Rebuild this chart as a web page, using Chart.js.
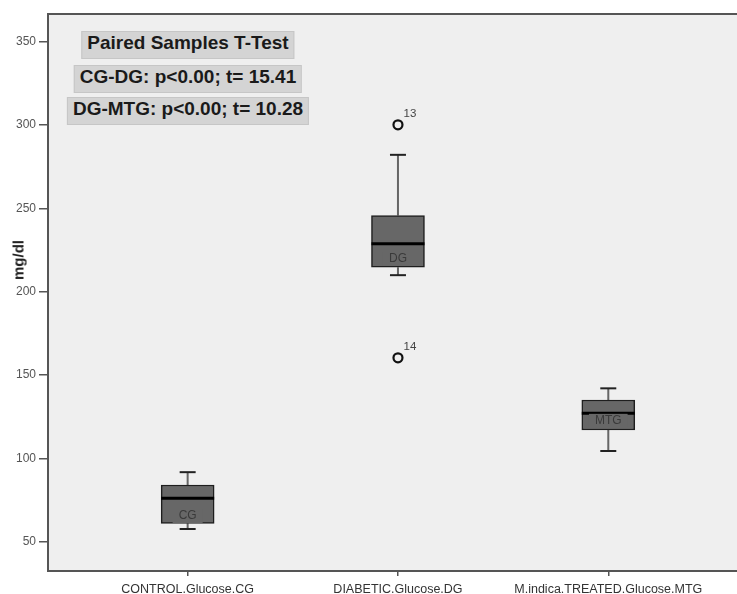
<!DOCTYPE html>
<html>
<head>
<meta charset="utf-8">
<script src="https://cdn.jsdelivr.net/npm/chart.js@4/dist/chart.umd.min.js"></script>
<style>
  html, body { margin: 0; padding: 0; background: #fff; }
  #wrap { position: relative; width: 737px; height: 594px; }
  .note {
    position: absolute; transform: translateX(-50%);
    height: 28px; line-height: 28px; padding: 0 5px;
    background: #d4d4d4; border: 1px solid #c6c6c6; box-sizing: border-box;
    font: bold 19px "Liberation Sans", Arial, sans-serif; color: #1a1a1a;
    white-space: nowrap;
  }
  #ytitle {
    position: absolute; left: 18px; top: 260px;
    transform: translate(-50%, -50%) rotate(-90deg);
    font: bold 15px "Liberation Sans", Arial, sans-serif; color: #222;
  }
</style>
</head>
<body>
<div id="wrap">
  <canvas id="myChart" width="737" height="594"></canvas>
  <div class="note" style="left:188px; top:31px;">Paired Samples T-Test</div>
  <div class="note" style="left:188px; top:65px;">CG-DG: p&lt;0.00; t= 15.41</div>
  <div class="note" style="left:188px; top:97px;">DG-MTG: p&lt;0.00; t= 10.28</div>
  <div id="ytitle">mg/dl</div>
</div>
<script>
  // groups
  const categories = ['CONTROL.Glucose.CG', 'DIABETIC.Glucose.DG', 'M.indica.TREATED.Glucose.MTG'];
  const codes = ['CG', 'DG', 'MTG'];
  // box stats
  const whiskerLow = [57.6, 209.9, 104.4];
  const q1 = [61, 214.7, 117];
  const median = [76, 228.7, 127];
  const q3 = [84, 245.7, 135];
  const whiskerHigh = [91.7, 282.1, 142];
  const codeAt = [65.4, 219.6, 122.5];
  // outliers
  const outlierGroup = [2, 2];
  const outlierValues = [300.1, 160.3];
  const outlierIds = ['13', '14'];
  const yTicks = [50, 100, 150, 200, 250, 300, 350];

  const boxFill = '#676767';
  const pos = categories.map((c, i) => i + 1);

  const whiskerData = [];
  pos.forEach((x, i) => {
    whiskerData.push({x: x, y: q3[i]}, {x: x, y: whiskerHigh[i]}, {x: x, y: null});
    whiskerData.push({x: x, y: q1[i]}, {x: x, y: whiskerLow[i]}, {x: x, y: null});
  });
  const capData = [];
  pos.forEach((x, i) => {
    capData.push({x: x, y: whiskerLow[i]}, {x: x, y: whiskerHigh[i]});
  });

  const bgPlugin = {
    id: 'plotBg',
    beforeDraw(chart) {
      const {ctx, chartArea: a} = chart;
      ctx.save();
      ctx.fillStyle = '#efefef';
      ctx.fillRect(a.left, a.top, a.right - a.left, a.bottom - a.top);
      ctx.strokeStyle = '#555';
      ctx.lineWidth = 2;
      ctx.beginPath();
      ctx.moveTo(a.left, a.top);
      ctx.lineTo(a.right, a.top);
      ctx.stroke();
      ctx.restore();
    }
  };

  const labelPlugin = {
    id: 'boxLabels',
    afterDatasetsDraw(chart) {
      const {ctx, scales: {x, y}} = chart;
      ctx.save();
      ctx.font = '12px "Liberation Sans", Arial, sans-serif';
      ctx.textAlign = 'center';
      ctx.textBaseline = 'middle';
      codes.forEach((c, i) => {
        const px = x.getPixelForValue(pos[i]);
        const py = y.getPixelForValue(codeAt[i]);
        const w = ctx.measureText(c).width + 12;
        ctx.fillStyle = boxFill;
        ctx.fillRect(px - w / 2, py - 7, w, 14);
        ctx.fillStyle = '#3a3a3a';
        ctx.fillText(c, px, py);
      });
      ctx.font = '11.5px "Liberation Sans", Arial, sans-serif';
      ctx.fillStyle = '#444';
      outlierIds.forEach((id, i) => {
        const px = x.getPixelForValue(outlierGroup[i]);
        const py = y.getPixelForValue(outlierValues[i]);
        ctx.fillText(id, px + 12, py - 11);
      });
      ctx.restore();
    }
  };

  const config = {
    data: {
      datasets: [
        {
          type: 'line', label: 'whiskers', data: whiskerData,
          borderColor: '#666', borderWidth: 2, pointRadius: 0, spanGaps: false, order: 5
        },
        {
          type: 'bar', label: 'box', data: pos.map((x, i) => ({x: x, y: [q1[i], q3[i]]})),
          backgroundColor: boxFill, borderColor: '#1e1e1e', borderWidth: 1.5,
          borderSkipped: false, barThickness: 53, order: 4
        },
        {
          type: 'scatter', label: 'median', data: pos.map((x, i) => ({x: x, y: median[i]})),
          pointStyle: 'line', pointRadius: 26.5, borderColor: '#000', borderWidth: 3, order: 3
        },
        {
          type: 'scatter', label: 'caps', data: capData,
          pointStyle: 'line', pointRadius: 8, borderColor: '#222', borderWidth: 2, order: 2
        },
        {
          type: 'scatter', label: 'outliers',
          data: outlierValues.map((v, i) => ({x: outlierGroup[i], y: v})),
          pointStyle: 'circle', pointRadius: 4.5, backgroundColor: '#efefef',
          borderColor: '#111', borderWidth: 2.2, order: 1
        }
      ]
    },
    options: {
      responsive: false,
      animation: false,
      layout: {autoPadding: false, padding: {top: 14, left: 0, right: 0, bottom: 0}},
      plugins: {legend: {display: false}, tooltip: {enabled: false}},
      scales: {
        x: {
          type: 'linear', min: 0.336, max: 3.612, offset: false,
          afterBuildTicks: s => { s.ticks = pos.map(v => ({value: v})); },
          afterFit: s => { s.height = 23; },
          ticks: {
            callback: v => categories[v - 1],
            color: '#333', padding: 6, maxRotation: 0, autoSkip: false,
            font: {family: '"Liberation Sans", Arial, sans-serif', size: 12.5}
          },
          grid: {offset: false, drawOnChartArea: false, drawTicks: true, tickLength: 5, color: '#555', lineWidth: 1.5},
          border: {display: true, color: '#555', width: 2}
        },
        y: {
          min: 32.4, max: 366.6,
          afterBuildTicks: s => { s.ticks = yTicks.map(v => ({value: v})); },
          afterFit: s => { s.width = 48; },
          ticks: {
            color: '#555', padding: 3,
            font: {family: '"Liberation Sans", Arial, sans-serif', size: 12}
          },
          grid: {drawOnChartArea: false, drawTicks: true, tickLength: 9, color: '#555', lineWidth: 1.5},
          border: {display: true, color: '#555', width: 2}
        }
      }
    },
    plugins: [bgPlugin, labelPlugin]
  };

  var myChart = new Chart(document.getElementById('myChart'), config);
</script>
</body>
</html>
